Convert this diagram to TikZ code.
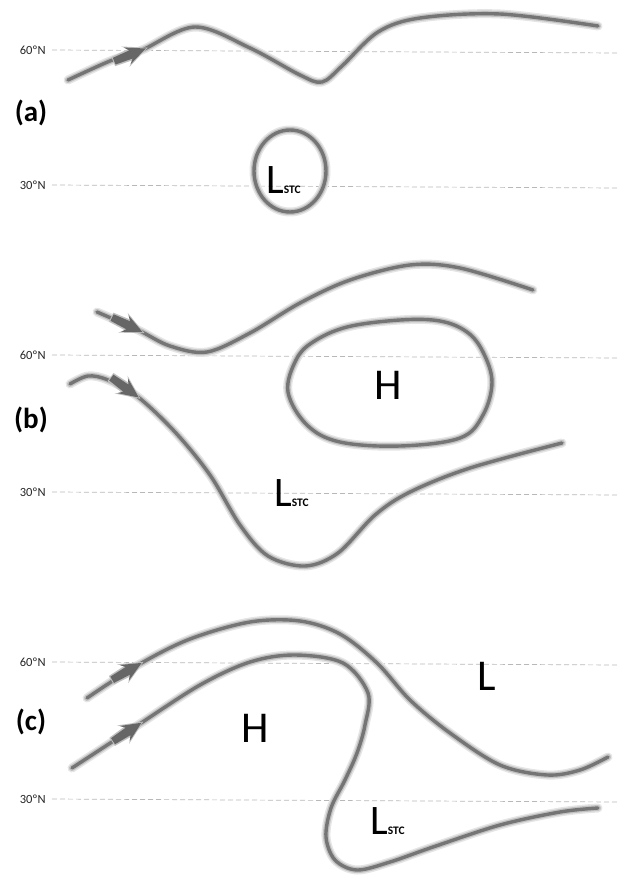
\documentclass[tikz,border=0pt]{standalone}
\usepackage{fontspec}
\setmainfont{Carlito}
\usetikzlibrary{decorations.markings}
\tikzset{
  isoline/.style={draw=black!54, line width=3.4pt, line cap=round, line join=round,
    preaction={draw=black!10, line width=9pt, line cap=round, line join=round},
    preaction={draw=black!24, line width=6pt, line cap=round, line join=round}},
  latline/.style={draw=black!28, line width=0.7pt, dash pattern=on 5pt off 3pt},
  latlabel/.style={anchor=east, font=\fontsize{12.5}{14}\selectfont, text=black!85, inner sep=0pt},
  panel/.style={font=\fontsize{29}{32}\selectfont\bfseries, inner sep=0pt},
  bigletter/.style={font=\fontsize{44}{44}\selectfont, inner sep=0pt},
  flowmark/.style={postaction={decorate, decoration={markings, mark=at position #1 with {
      \fill[black!25] (-31pt,-5pt) -- (-13pt,-6pt) -- (-18pt,-11pt) -- (6pt,0pt) -- (-18pt,11pt) -- (-13pt,6pt) -- (-31pt,5pt) -- cycle;
      \fill[black!60] (-30pt,-3.6pt) -- (-12pt,-4.4pt) -- (-16pt,-9pt) -- (4pt,0pt) -- (-16pt,9pt) -- (-12pt,4.4pt) -- (-30pt,3.6pt) -- cycle;}}}}
}
\newcommand{\lstc}{{\fontsize{42}{42}\selectfont L}{\fontsize{11.5}{12}\selectfont\bfseries STC}}
\begin{document}
\begin{tikzpicture}[x=1pt,y=-1pt]
\useasboundingbox (0,0) rectangle (618,875);
% ---------- panel (a)
\node[latlabel] (la60) at (46,50) {60ºN};
\node[latlabel] (la30) at (46,185) {30ºN};
\draw[latline] (52,50) -- (618,53);
\draw[latline] (52,185) -- (618,188);
\node[panel] (pa) at (31,113) {(a)};
\draw[isoline, flowmark=80pt] plot[smooth, tension=0.55] coordinates {(68,80) (110,61) (142,50) (195,27) (250,48) (300,75) (322,82) (342,66) (378,32) (420,18) (500,14) (598,26)};
\draw[isoline] (290,171) ellipse [x radius=36, y radius=41];
\node[anchor=base west, inner sep=0pt] (lsa) at (266,193) {\lstc};
% ---------- panel (b)
\node[latlabel] (lb60) at (46,355) {60ºN};
\node[latlabel] (lb30) at (46,492) {30ºN};
\draw[latline] (52,355) -- (618,358);
\draw[latline] (52,492) -- (618,495);
\node[panel] (pb) at (31,420) {(b)};
\draw[isoline, flowmark=46pt] plot[smooth, tension=0.55] coordinates {(97,312) (138,330) (170,346) (207,352) (250,333) (300,303) (350,280) (410,265) (460,268) (533,290)};
\draw[isoline] plot[smooth cycle, tension=0.6] coordinates {(288,392) (296,360) (313,342) (347,327) (400,320) (440,321) (467,332) (483,352) (492,382) (483,415) (460,438) (400,446) (340,442) (307,425)};
\node[bigletter] (hb) at (388,385) {H};
\draw[isoline, flowmark=72pt] plot[smooth, tension=0.55] coordinates {(70,384) (88,376) (108,380) (138,397) (175,432) (210,475) (240,525) (268,556) (305,566) (338,553) (375,515) (410,492) (470,468) (562,443)};
\node[anchor=base west, inner sep=0pt] (lsb) at (274,506) {\lstc};
% ---------- panel (c)
\node[latlabel] (lc60) at (46,662) {60ºN};
\node[latlabel] (lc30) at (46,799) {30ºN};
\draw[latline] (52,662) -- (618,665);
\draw[latline] (52,799) -- (618,802);
\node[panel] (pc) at (31,722) {(c)};
\draw[isoline, flowmark=61pt] plot[smooth, tension=0.55] coordinates {(87,698) (138,665) (190,639) (250,622) (300,621) (340,634) (377,663) (410,700) (450,733) (500,765) (547,775) (580,770) (608,757)};
\draw[isoline, flowmark=79pt] plot[smooth, tension=0.55] coordinates {(72,768) (138,725) (200,685) (250,662) (295,655) (343,663) (368,693) (365,725) (357,753) (345,780) (331,808) (326,837) (335,860) (357,870) (390,862) (433,847) (500,825) (560,812) (598,808)};
\node[bigletter] (hc) at (255,728) {H};
\node[bigletter] (lc) at (487,676) {L};
\node[anchor=base west, inner sep=0pt] (lsc) at (370,834) {\lstc};
\end{tikzpicture}
\end{document}
